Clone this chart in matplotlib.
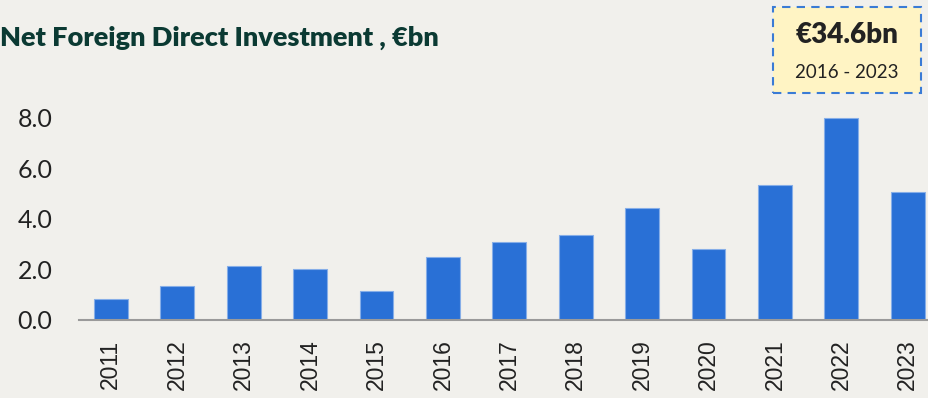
import matplotlib
matplotlib.use("Agg")
import matplotlib.pyplot as plt
from matplotlib.patches import Rectangle

# net FDI per year, EUR bn
years = ["2011", "2012", "2013", "2014", "2015", "2016", "2017",
         "2018", "2019", "2020", "2021", "2022", "2023"]
fdi = [0.83, 1.35, 2.14, 2.02, 1.15, 2.5, 3.1, 3.35, 4.45, 2.8, 5.35, 8.0, 5.05]
y_ticks = [0, 2, 4, 6, 8]

total_label = "€34.6bn"
period_label = "2016 - 2023"

bg = "#f1f0ec"
bar_blue = "#2970d6"

fig = plt.figure(figsize=(9.29, 3.98), dpi=100, facecolor=bg)
ax = fig.add_axes([79 / 929, 0.196, 1 - 79 / 929, 0.5266], facecolor=bg)

x = list(range(len(years)))
ax.bar(x, fdi, width=0.51, color=bar_blue, edgecolor="#86aee8", linewidth=0.8, zorder=2)

ax.set_xlim(-0.48, len(years) - 1 + 0.32)
ax.set_ylim(0, 8.3)
ax.set_yticks(y_ticks)
ax.set_yticklabels([f"{v:.1f}" for v in y_ticks], family="Lato", fontsize=18, color="#222222")
ax.set_xticks(x)
ax.set_xticklabels(years, rotation=90, family="Liberation Sans", fontsize=16.5, color="#222222")
ax.tick_params(axis="y", length=0, pad=19)
ax.tick_params(axis="x", length=0, pad=14)

for side in ["top", "right", "left"]:
    ax.spines[side].set_visible(False)
ax.spines["bottom"].set_color("#9a9a9a")
ax.spines["bottom"].set_linewidth(1.5)

fig.text(0, 1 - 38 / 398, "Net Foreign Direct Investment , €bn", family="Lato",
         fontweight="heavy", fontsize=19.5, color="#0b3a33", ha="left", va="center")

# total callout box
box = Rectangle((773 / 929, 1 - 93 / 398), 148 / 929, 86 / 398, transform=fig.transFigure,
                facecolor="#fff4c4", edgecolor="#3a7bd5", linestyle=(0, (4, 3)), linewidth=1.5)
fig.patches.append(box)
fig.text(847 / 929, 1 - 35 / 398, total_label, family="Lato", fontweight="heavy",
         fontsize=20, color="#222222", ha="center", va="center")
fig.text(847 / 929, 1 - 73 / 398, period_label, family="Lato", fontsize=13.5,
         color="#222222", ha="center", va="center")

fig.savefig("out.png", dpi=100, facecolor=bg)
